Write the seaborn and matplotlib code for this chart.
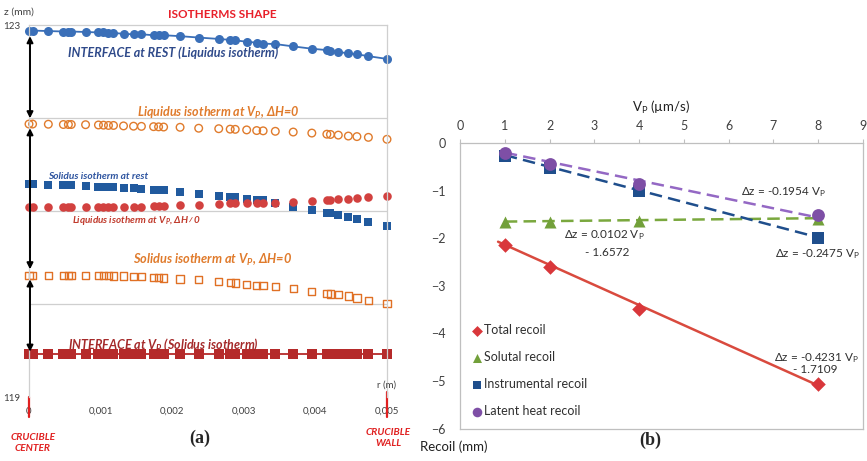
import matplotlib
matplotlib.use("Agg")
import matplotlib.pyplot as plt
import matplotlib.transforms as mtransforms
import seaborn as sns

# ---- panel (a): radial mesh nodes (m) and isotherm heights z (mm)
r_nodes = [0.00000, 0.00005, 0.00027, 0.00048, 0.00055, 0.00059, 0.00079,
           0.00097, 0.00104, 0.00111, 0.00118, 0.00132, 0.00146, 0.00157,
           0.00174, 0.00181, 0.00188, 0.00211, 0.00237, 0.00265, 0.00281,
           0.00288, 0.00304, 0.00318, 0.00327, 0.00344, 0.00369, 0.00395,
           0.00416, 0.00421, 0.00432, 0.00446, 0.00458, 0.00474, 0.00500]

z_rest_liq = [122.94, 122.94, 122.935, 122.93, 122.93, 122.93, 122.925,
              122.92, 122.92, 122.915, 122.915, 122.905, 122.90, 122.90,
              122.89, 122.89, 122.89, 122.88, 122.865, 122.85, 122.84,
              122.835, 122.82, 122.81, 122.80, 122.795, 122.77, 122.745,
              122.73, 122.725, 122.71, 122.695, 122.685, 122.665, 122.635]

z_liq_vp0 = [121.935, 121.935, 121.933, 121.93, 121.93, 121.93, 121.928,
             121.925, 121.923, 121.92, 121.92, 121.915, 121.912, 121.91,
             121.907, 121.905, 121.903, 121.90, 121.89, 121.885, 121.88,
             121.878, 121.872, 121.865, 121.862, 121.857, 121.849, 121.838,
             121.826, 121.823, 121.816, 121.806, 121.80, 121.792, 121.771]

z_sol_rest = [121.287, 121.287, 121.283, 121.28, 121.279, 121.278, 121.270,
              121.262, 121.258, 121.256, 121.254, 121.251, 121.245, 121.240,
              121.231, 121.229, 121.227, 121.204, 121.186, 121.161, 121.151,
              121.146, 121.133, 121.122, 121.113, 121.090, 121.047, 121.011,
              120.982, 120.975, 120.955, 120.932, 120.917, 120.886, 120.839]

z_liq_vp = [121.04, 121.04, 121.04, 121.04, 121.04, 121.04, 121.04,
            121.042, 121.043, 121.045, 121.046, 121.047, 121.047, 121.047,
            121.050, 121.052, 121.054, 121.061, 121.068, 121.078, 121.081,
            121.082, 121.086, 121.090, 121.090, 121.090, 121.100, 121.111,
            121.120, 121.122, 121.127, 121.133, 121.138, 121.147, 121.161]

z_sol_vp0 = [120.309, 120.309, 120.309, 120.309, 120.309, 120.309, 120.309,
             120.306, 120.305, 120.303, 120.302, 120.300, 120.297, 120.294,
             120.287, 120.284, 120.280, 120.269, 120.262, 120.240, 120.229,
             120.224, 120.210, 120.201, 120.197, 120.186, 120.165, 120.133,
             120.115, 120.108, 120.099, 120.086, 120.065, 120.041, 120.007]

z_if_vp = [119.46, 119.46, 119.46, 119.46, 119.46, 119.46, 119.46,
           119.46, 119.46, 119.46, 119.46, 119.46, 119.46, 119.46,
           119.46, 119.46, 119.46, 119.46, 119.46, 119.46, 119.46,
           119.46, 119.46, 119.46, 119.46, 119.46, 119.46, 119.46,
           119.46, 119.46, 119.46, 119.46, 119.46, 119.46, 119.46]

r_ticks = [0, 0.001, 0.002, 0.003, 0.004, 0.005]
r_tick_labels = ["0", "0,001", "0,002", "0,003", "0,004", "0,005"]

# ---- panel (b): recoil vs pulling rate
vp = [1, 2, 4, 8]
total_recoil = [-2.13, -2.60, -3.49, -5.07]
solutal_recoil = [-1.66, -1.65, -1.64, -1.60]
instrumental_recoil = [-0.26, -0.52, -1.01, -1.99]
latent_recoil = [-0.21, -0.43, -0.86, -1.51]

series_names = ["Total recoil", "Solutal recoil", "Instrumental recoil",
                "Latent heat recoil"]
fit_slope = [-0.4231, 0.0102, -0.2475, -0.1954]
fit_intercept = [-1.7109, -1.6572, 0.0, 0.0]
fit_start = [0.85, 1.0, 1.0, 1.0]

sns.set_theme(style="white")
plt.rcParams["font.family"] = ["Lato", "DejaVu Sans"]
plt.rcParams["mathtext.default"] = "regular"

W, H = 867, 461
fig = plt.figure(figsize=(W / 100, H / 100), dpi=100)


def fx(px):
    return px / W


def fy(py):
    return 1 - py / H


grey = "#404040"
light = "#cfcfcf"

# ================= panel (a) =================
ax = fig.add_axes([fx(29), fy(397), (387 - 29) / W, (397 - 25) / H])
ax.set_xlim(0, 0.005)
ax.set_ylim(119, 123)

for z in (120, 121, 122):
    ax.axhline(z, color=light, lw=0.9, zorder=0)
for side in ("top", "right", "left"):
    ax.spines[side].set_color(light)
    ax.spines[side].set_linewidth(0.9)
ax.spines["bottom"].set_visible(False)

sns.lineplot(x=r_nodes, y=z_rest_liq, color="#3a6fb8", lw=1.3, marker="o",
             markersize=6.5, markeredgewidth=0, ax=ax, clip_on=False)
sns.scatterplot(x=r_nodes, y=z_liq_vp0, marker="o", s=30, facecolor="none",
                edgecolor="#e07b2c", linewidth=1.0, ax=ax, clip_on=False)
sns.scatterplot(x=r_nodes, y=z_sol_rest, marker="s", s=34, color="#215a9e",
                linewidth=0, ax=ax, clip_on=False)
sns.scatterplot(x=r_nodes, y=z_liq_vp, marker="o", s=38, color="#d2413f",
                linewidth=0, ax=ax, clip_on=False)
sns.scatterplot(x=r_nodes, y=z_sol_vp0, marker="s", s=28, facecolor="none",
                edgecolor="#e07024", linewidth=1.0, ax=ax, clip_on=False)
sns.lineplot(x=r_nodes, y=z_if_vp, color="#b52a2a", lw=1.3, marker="s",
             markersize=7, markeredgewidth=0, ax=ax, clip_on=False)

ax.set_xticks(r_ticks, r_tick_labels)
ax.set_yticks([119, 123], ["119", "123"])
ax.tick_params(axis="x", length=0, pad=7, labelsize=7, labelcolor=grey)
ax.tick_params(axis="y", length=0, pad=6, labelsize=7, labelcolor=grey)
ax.set_xlabel("")
ax.set_ylabel("")

# double arrows between isotherms
arrow_spans = [(122.88, 121.997), (121.89, 120.373), (120.265, 119.487)]
for top, bottom in arrow_spans:
    ax.annotate("", xy=(0.000014, bottom), xytext=(0.000014, top),
                arrowprops=dict(arrowstyle="<|-|>", color="black", lw=1.4,
                                mutation_scale=9, shrinkA=0, shrinkB=0),
                annotation_clip=False)

lab = dict(fontstyle="italic", fontweight="bold", va="center", ha="left")
ax.text(0.000545, 122.70, "INTERFACE at REST (Liquidus isotherm)",
        color="#2f4a8a", fontsize=9, **lab)
ax.text(0.001508, 122.054, r"Liquidus isotherm at V$_P$, ΔH=0",
        color="#e07b2c", fontsize=9, **lab)
ax.text(0.000265, 121.366, "Solidus isotherm at rest",
        color="#2f55a0", fontsize=7.3, **lab)
ax.text(0.0006, 120.903, r"Liquidus isotherm at V$_P$, ΔH≠0",
        color="#c0392b", fontsize=7.1, **lab)
ax.text(0.001453, 120.473, r"Solidus isotherm at V$_P$, ΔH=0",
        color="#e07b2c", fontsize=9.2, **lab)
ax.text(0.000545, 119.559, r"INTERFACE at V$_P$ (Solidus isotherm)",
        color="#a52a2a", fontsize=9, **lab)

fig.text(fx(4), fy(12), "z (mm)", fontsize=7.5, color=grey, va="center")
fig.text(fx(222), fy(14), "ISOTHERMS SHAPE", fontsize=8.5, color="#e8202a",
         fontweight="bold", ha="center", va="center")
fig.text(fx(387), fy(385), "r (m)", fontsize=7, color=grey,
         ha="center", va="center")

trans = mtransforms.blended_transform_factory(ax.transData, ax.transAxes)
ax.plot([0, 0], [0, -0.054], color="#e02020", lw=1.6, transform=trans,
        clip_on=False)
ax.plot([0.005, 0.005], [0.013, -0.054], color="#e02020", lw=1.6,
        transform=trans, clip_on=False)
crucible = dict(fontsize=7.3, color="#e02020", fontweight="bold",
                fontstyle="italic", ha="center", va="center", linespacing=1.2)
fig.text(fx(33), fy(443), "CRUCIBLE\nCENTER", **crucible)
fig.text(fx(388), fy(438), "CRUCIBLE\nWALL", **crucible)

panel = dict(fontsize=13, fontweight="bold", ha="center", va="center",
             family=["Liberation Serif", "DejaVu Serif"])
fig.text(fx(200), fy(438), "(a)", **panel)
fig.text(fx(650), fy(440), "(b)", **panel)

# ================= panel (b) =================
bx = fig.add_axes([fx(460), fy(428.5), (863 - 460) / W, (428.5 - 143.3) / H])
bx.set_xlim(0, 9)
bx.set_ylim(-6, 0)
for side in bx.spines.values():
    side.set_color("#bfbfbf")
    side.set_linewidth(0.9)

colors = ["#d9373b", "#72a03a", "#1f4e8c", "#7e4fa6"]
line_colors = ["#d94a3e", "#7aa83e", "#1f4e8c", "#9468c4"]
markers = ["D", "^", "s", "o"]
sizes = [55, 75, 70, 85]
values = [total_recoil, solutal_recoil, instrumental_recoil, latent_recoil]

for i in range(4):
    xs = [fit_start[i], vp[-1]]
    ys = [fit_slope[i] * x + fit_intercept[i] for x in xs]
    sns.lineplot(x=xs, y=ys, color=line_colors[i], lw=1.8, ax=bx,
                 linestyle="-" if i == 0 else (0, (5, 2.5)))
    sns.scatterplot(x=vp, y=values[i], marker=markers[i], s=sizes[i],
                    color=colors[i], linewidth=0, label=series_names[i],
                    ax=bx, clip_on=False, zorder=3)

bx.xaxis.tick_top()
bx.xaxis.set_label_position("top")
bx.set_xticks(range(0, 10))
bx.set_yticks(range(-6, 1))
bx.tick_params(axis="both", length=3, width=0.8, color="#bfbfbf",
               labelsize=9, labelcolor=grey)
bx.tick_params(axis="x", pad=5)
bx.tick_params(axis="y", pad=7)
bx.set_xlabel(r"V$_P$ (µm/s)", fontsize=9.5, color="#202020", labelpad=6)
bx.set_ylabel("")

bx.legend(loc="lower left", bbox_to_anchor=(0.0, 0.0), frameon=False,
          fontsize=9, handletextpad=0.05, labelspacing=1.2,
          handlelength=1.0, markerscale=0.75, labelcolor="#303030")

note = dict(fontsize=8.5, color="#303030", ha="center", va="center")
bx.text(7.22, -1.025, r"Δz = -0.1954 V$_P$", **note)
bx.text(3.22, -1.93, r"Δz = 0.0102 V$_P$", **note)
bx.text(3.29, -2.29, "- 1.6572", **note)
bx.text(7.98, -2.33, r"Δz = -0.2475 V$_P$", **note)
bx.text(7.96, -4.52, r"Δz = -0.4231 V$_P$", **note)
bx.text(7.93, -4.75, "- 1.7109", **note)

fig.text(fx(420), fy(447), "Recoil (mm)", fontsize=9.5, color="#202020",
         ha="left", va="center")

fig.savefig("out.png", dpi=100)
plt.close(fig)
